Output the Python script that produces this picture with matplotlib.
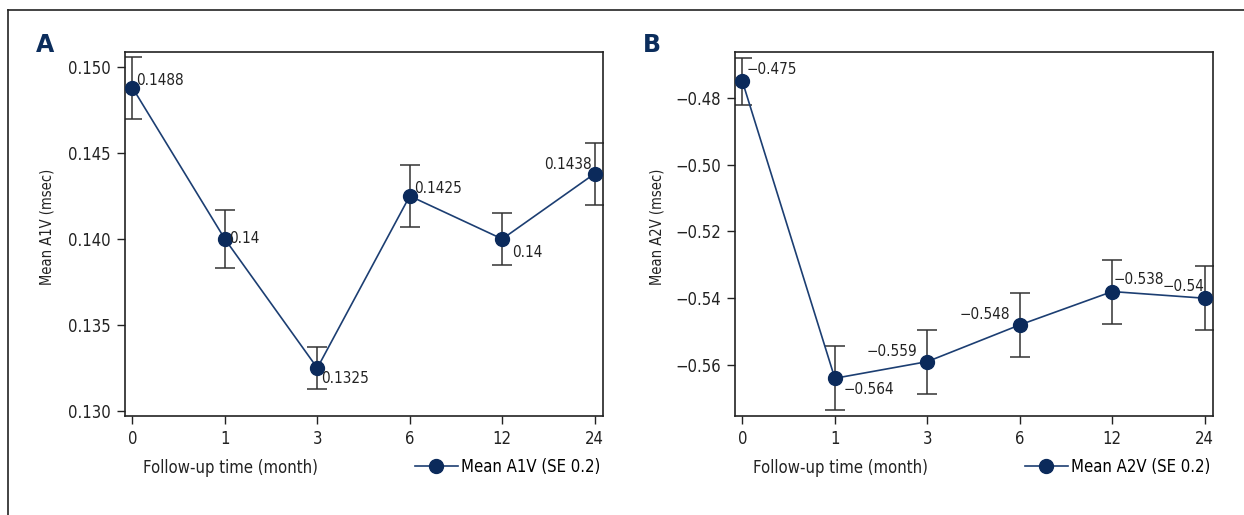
import matplotlib
matplotlib.use("Agg")
import matplotlib.pyplot as plt
from matplotlib import font_manager
from matplotlib.lines import Line2D

names = {f.name for f in font_manager.fontManager.ttflist}
if "Liberation Sans Narrow" in names:
    plt.rcParams['font.family'] = ['Liberation Sans Narrow', 'DejaVu Sans']
else:
    plt.rcParams['font.family'] = ['DejaVu Sans']
    plt.rcParams['font.stretch'] = 'condensed'
plt.rcParams['axes.unicode_minus'] = True

categories = ["0", "1", "3", "6", "12", "24"]
a1v_mean = [0.1488, 0.14, 0.1325, 0.1425, 0.14, 0.1438]
a1v_se = [0.0018, 0.0017, 0.0012, 0.0018, 0.0015, 0.0018]
a2v_mean = [-0.475, -0.564, -0.559, -0.548, -0.538, -0.54]
a2v_se = [0.007, 0.0096, 0.0096, 0.0096, 0.0096, 0.0096]
a1v_labels = ["0.1488", "0.14", "0.1325", "0.1425", "0.14", "0.1438"]
a2v_labels = ["\u22120.475", "\u22120.564", "\u22120.559", "\u22120.548", "\u22120.538", "\u22120.54"]

navy = "#0b2a5b"
line_c = "#1c3e72"
err_c = "#333333"
fs = 12
afs = 11

fig = plt.figure(figsize=(12.44, 5.15), dpi=100)

# partial frame
fig.add_artist(Line2D([8/1244, 1.0], [1-10/515, 1-10/515], color="#222222", lw=1.2))
fig.add_artist(Line2D([8/1244, 8/1244], [0, 1-10/515], color="#222222", lw=1.2))

def panel(left, means, ses, labels, offsets, ylim, yticks, yfmt, ylabel, leg, letter, letter_x):
    ax = fig.add_axes([left, 99/515, 478/1244, 364/515])
    x = list(range(len(categories)))
    ax.errorbar(x, means, yerr=ses, fmt='none', ecolor=err_c, elinewidth=1.1, capsize=7, capthick=1.1, zorder=2)
    ax.plot(x, means, color=line_c, lw=1.2, marker='o', ms=10, mfc=navy, mec=navy, zorder=3)
    for xi, yi, lab, (dx, dy, ha, va) in zip(x, means, labels, offsets):
        ax.annotate(lab, (xi, yi), xytext=(dx, dy), textcoords='offset points', ha=ha, va=va, fontsize=afs, color="#222222")
    ax.set_xticks(x)
    ax.set_xticklabels(categories)
    ax.set_xlim(-0.08, 5.09)
    ax.set_ylim(*ylim)
    ax.set_yticks(yticks)
    ax.set_yticklabels([yfmt(v) for v in yticks])
    ax.tick_params(labelsize=fs, length=6, width=1, colors="#222222", pad=4)
    for s in ax.spines.values():
        s.set_color("#222222")
        s.set_linewidth(1.2)
    ax.set_ylabel(ylabel, fontsize=fs - 1.5, color="#222222")
    ax.set_xlabel("Follow-up time (month)", fontsize=fs, color="#222222")
    ax.xaxis.set_label_coords(0.22, -0.118)
    ax.yaxis.set_label_coords(-0.148, 0.52)
    h = Line2D([], [], color=line_c, lw=1.2, marker='o', ms=10, mfc=navy, mec=navy)
    ax.legend([h], [leg], loc='center right', bbox_to_anchor=(0.995, -0.14), frameon=False,
              fontsize=fs, handlelength=2.6, handletextpad=0.2, borderaxespad=0, borderpad=0)
    fig.text(letter_x, 1 - 45/515, letter, fontsize=17, fontweight='bold', color="#0b2d5c",
             ha='left', va='center', fontstretch='normal')
    return ax

offA = [(3, 0, 'left', 'bottom'), (3, 0, 'left', 'center'), (3, -2, 'left', 'top'),
        (3, 0, 'left', 'bottom'), (7, -4, 'left', 'top'), (-2, 1, 'right', 'bottom')]
panel(125/1244, a1v_mean, a1v_se, a1v_labels, offA, (0.12971, 0.15087),
      [0.130, 0.135, 0.140, 0.145, 0.150], lambda v: f"{v:.3f}",
      "Mean A1V (msec)", "Mean A1V (SE 0.2)", "A", 36/1244)

offB = [(3, 3, 'left', 'bottom'), (6, -3, 'left', 'top'), (-7, 2, 'right', 'bottom'),
        (-7, 2, 'right', 'bottom'), (1, 3, 'left', 'bottom'), (0, 3, 'right', 'bottom')]
panel(735/1244, a2v_mean, a2v_se, a2v_labels, offB, (-0.5753, -0.4662),
      [-0.56, -0.54, -0.52, -0.50, -0.48], lambda v: f"{v:.2f}".replace("-", "\u2212"),
      "Mean A2V (msec)", "Mean A2V (SE 0.2)", "B", 643/1244)

fig.savefig("out.png", dpi=100)
